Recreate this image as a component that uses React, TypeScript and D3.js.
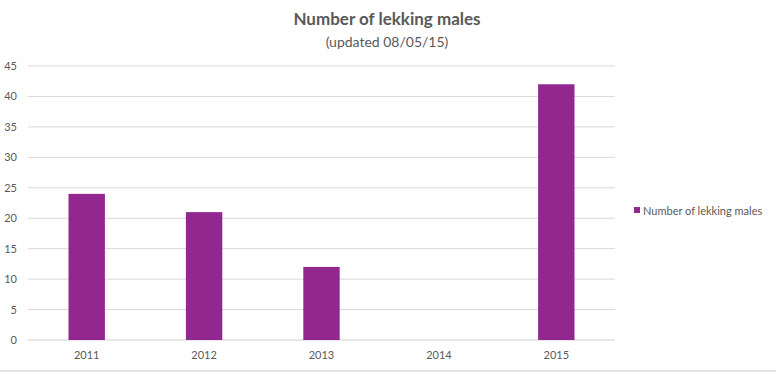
import React from "react";
import * as d3 from "d3";

const categories = ["2011", "2012", "2013", "2014", "2015"];
const values = [24, 21, 12, 0, 42];
const yTicks = [0, 5, 10, 15, 20, 25, 30, 35, 40, 45];
const seriesName = "Number of lekking males";
const title = "Number of lekking males";
const subtitle = "(updated 08/05/15)";

const W = 780;
const H = 375;
const left = 28;
const right = 615;
const top = 66;
const bottom = 340;
const font = "Lato, 'Noto Sans', sans-serif";
const textColor = "#595959";
const barColor = "#92278f";

export default function App() {
  const x = d3.scaleBand<string>().domain(categories).range([left, right]).paddingInner(0.69).paddingOuter(0.345);
  const y = d3.scaleLinear().domain([0, 45]).range([bottom, top]);
  return (
    <svg width={W} height={H} style={{ position: "absolute", left: 0, top: 0, background: "#fff" }}>
      <text x={387} y={25} textAnchor="middle" fontFamily={font} fontSize={17} fontWeight="bold" fill={textColor}>{title}</text>
      <text x={387} y={47} textAnchor="middle" fontFamily={font} fontSize={14} fill={textColor}>{subtitle}</text>
      {yTicks.map((t) => (
        <g key={t}>
          <line x1={left} x2={right} y1={y(t)} y2={y(t)} stroke={t === 0 ? "#d0d0d0" : "#d9d9d9"} strokeWidth={1} />
          <text x={17} y={y(t) + 4} textAnchor="end" fontFamily={font} fontSize={11} fill={textColor}>{t}</text>
        </g>
      ))}
      {categories.map((c, i) => (
        <g key={c}>
          <rect x={x(c)} y={y(values[i])} width={x.bandwidth()} height={y(0) - y(values[i])} fill={barColor} />
          <text x={(x(c) as number) + x.bandwidth() / 2} y={359} textAnchor="middle" fontFamily={font} fontSize={11} fill={textColor}>{c}</text>
        </g>
      ))}
      <rect x={634} y={207} width={6} height={6} fill={barColor} />
      <text x={643} y={215} fontFamily={font} fontSize={11} fill={textColor}>{seriesName}</text>
      <line x1={0} x2={776} y1={371} y2={371} stroke="#d9d9d9" strokeWidth={1.5} />
    </svg>
  );
}
